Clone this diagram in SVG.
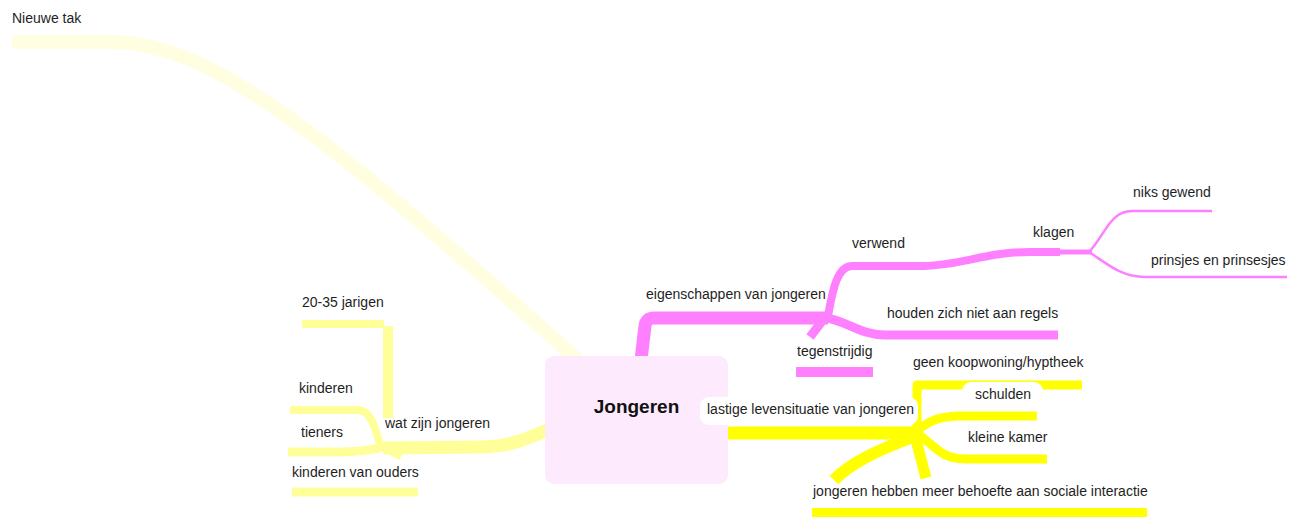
<svg xmlns="http://www.w3.org/2000/svg" width="1302" height="517" viewBox="0 0 1302 517">
<style>
text{font-family:"Liberation Sans",Arial,sans-serif;font-size:14px;fill:#1e1e1e}
.c{fill:none;stroke-linecap:butt;stroke-linejoin:round}
.pk{stroke:#ff80ff}
.yl{stroke:#ffff00}
.ly{stroke:#ffff99}
.pl{stroke:#fffee0}
.lbl{fill:#ffffff}
</style>
<rect width="1302" height="517" fill="#ffffff"/>
<g id="connectors">
  <path class="c pl" stroke-width="14" d="M12,42 H110 C210,42 320,130 578,360"/>
  <!-- left pale yellow -->
  <path class="c ly" stroke-width="13" d="M550,429 C520,442 505,447 480,447 L383,448"/>
  <path class="c ly" stroke-width="10" d="M388,326 L388,418"/>
  <path class="c ly" stroke-width="8" d="M302,324 L384,324"/>
  <path class="c ly" stroke-width="8" d="M381,448 C376,432 372,410 358,410 L290,410"/>
  <path class="c ly" stroke-width="9" d="M388,446 C372,450 360,452 340,452 L288,452"/>
  <path class="c ly" stroke-width="7" d="M386,449 L401,457"/>
  <path class="c ly" stroke-width="9" d="M292,492 L418,492"/>
  <!-- pink -->
  <path class="c pk" stroke-width="13" d="M641,360 L645,326 Q646,318 654,318 L828,318"/>
  <path class="c pk" stroke-width="8" d="M828,316 C832,295 836,266 852,266 L920,266 C960,266 985,252 1030,252 L1060,252"/>
  <path class="c pk" stroke-width="5" d="M1055,252 L1092,252"/>
  <path class="c pk" stroke-width="2.5" d="M1089,252 C1105,235 1110,211 1132,211 L1212,211"/>
  <path class="c pk" stroke-width="2.5" d="M1089,252 C1105,262 1120,277 1145,277 L1287,277"/>
  <path class="c pk" stroke-width="9" d="M826,318 C845,320 860,335 885,335 L1058,335"/>
  <path class="c pk" stroke-width="9" d="M826,316 L810,337"/>
  <path class="c pk" stroke-width="10" d="M796,372 L873,372"/>
  <!-- yellow -->
  <path class="c yl" stroke-width="13" d="M726,433 L916,433"/>
  <path class="c yl" stroke-width="9" stroke-linejoin="miter" d="M917,432 L917,385 L1082,385"/>
  <path class="c yl" stroke-width="9" d="M915,432 C930,420 940,416 962,416 L1037,416"/>
  <path class="c yl" stroke-width="9" d="M915,432 C935,445 940,459 965,459 L1047,459"/>
  <path class="c yl" stroke-width="11" d="M914,432 L926,478"/>
  <path class="c yl" stroke-width="12" d="M915,436 C895,444 855,458 834,480"/>
  <path class="c yl" stroke-width="10" d="M812,513 L1147,513"/>
</g>
<g id="node-jongeren">
  <rect x="545" y="356" width="183" height="128" rx="9" fill="#fdebfd"/>
  <text x="636.5" y="413" text-anchor="middle" style="font-size:19px;font-weight:bold;fill:#111">Jongeren</text>
</g>
<g id="node-nieuwe-tak"><text x="12" y="23">Nieuwe tak</text></g>
<g id="node-wat-zijn-jongeren"><text x="385" y="428">wat zijn jongeren</text></g>
<g id="node-20-35"><text x="302" y="307">20-35 jarigen</text></g>
<g id="node-kinderen"><text x="299" y="393">kinderen</text></g>
<g id="node-tieners"><text x="301" y="437">tieners</text></g>
<g id="node-kinderen-van-ouders"><text x="292" y="477">kinderen van ouders</text></g>
<g id="node-eigenschappen"><text x="646" y="299">eigenschappen van jongeren</text></g>
<g id="node-verwend"><text x="852" y="248">verwend</text></g>
<g id="node-klagen"><text x="1033" y="237">klagen</text></g>
<g id="node-niks-gewend"><text x="1133" y="197">niks gewend</text></g>
<g id="node-prinsjes"><text x="1151" y="265">prinsjes en prinsesjes</text></g>
<g id="node-houden"><text x="887" y="318">houden zich niet aan regels</text></g>
<g id="node-tegenstrijdig"><text x="797" y="356">tegenstrijdig</text></g>
<g id="node-lastige">
  <rect class="lbl" x="700" y="397" width="218" height="28" rx="9"/>
  <text x="707" y="414">lastige levensituatie van jongeren</text>
</g>
<g id="node-geen-koopwoning"><text x="913" y="367">geen koopwoning/hyptheek</text></g>
<g id="node-schulden">
  <rect class="lbl" x="962" y="382" width="81" height="25" rx="9"/>
  <text x="975" y="399">schulden</text>
</g>
<g id="node-kleine-kamer"><text x="968" y="442">kleine kamer</text></g>
<g id="node-sociale-interactie"><text x="813" y="496">jongeren hebben meer behoefte aan sociale interactie</text></g>
</svg>
